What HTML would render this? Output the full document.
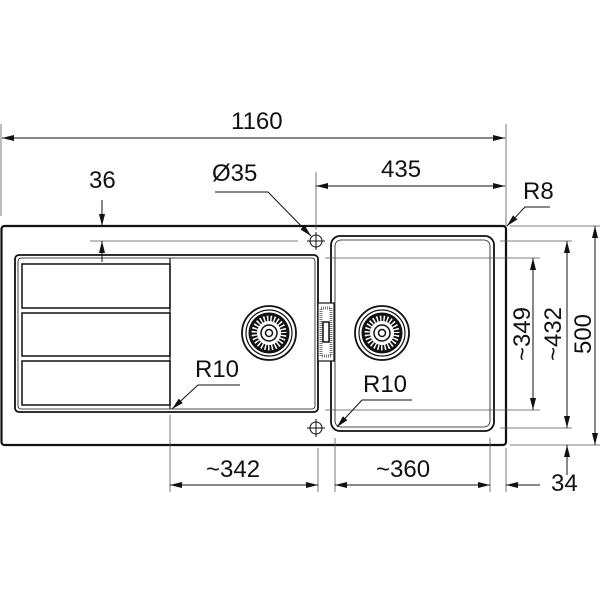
<!DOCTYPE html>
<html><head><style>body{margin:0;background:#fff}svg{display:block}text{font-family:"Liberation Sans",sans-serif;font-size:24px;fill:#111}</style></head>
<body>
<svg width="600" height="600" viewBox="0 0 600 600" xmlns="http://www.w3.org/2000/svg">
<defs>
<marker id="a" viewBox="0 0 12 6" refX="12" refY="3" markerWidth="12" markerHeight="6" orient="auto-start-reverse" markerUnits="userSpaceOnUse"><path d="M0 0L12 3L0 6z" fill="#111"/></marker>
<g id="drain"><circle r="27" fill="#fff" stroke="#111" stroke-width="1.8"/><circle r="23" fill="none" stroke="#111" stroke-width="1.2"/><circle r="19" fill="none" stroke="#111" stroke-width="3"/><circle r="15" fill="none" stroke="#111" stroke-width="6" stroke-dasharray="2 1.5"/><circle r="8" fill="none" stroke="#111" stroke-width="1.5"/><circle r="3.5" fill="none" stroke="#111" stroke-width="1.5"/></g>
<g id="hole"><circle r="6" fill="none" stroke="#111" stroke-width="1"/><path d="M-9 0H9M0 -9V9" stroke="#111" stroke-width="1"/></g>
</defs>
<g stroke="#111" fill="none">
<rect x="1.5" y="226" width="504.5" height="219" rx="3" stroke-width="2.2"/>
<rect x="15" y="255" width="303" height="157" rx="4" stroke-width="1.8"/>
<rect x="18" y="258" width="297" height="151" rx="3" stroke-width="0.8"/>
<line x1="170" y1="258" x2="170" y2="409" stroke-width="1.2"/>
<rect x="22" y="264" width="148" height="44" stroke-width="1.5"/>
<rect x="22" y="313" width="148" height="43" stroke-width="1.5"/>
<rect x="22" y="361" width="148" height="44" stroke-width="1.5"/>
<rect x="331" y="236" width="163" height="195" rx="9" stroke-width="1.8"/>
<rect x="335" y="240" width="155" height="187" rx="6" stroke-width="0.8"/>
<rect x="318" y="303" width="16" height="58" fill="#fff" stroke-width="1.2"/>
<rect x="321" y="308" width="10" height="48" stroke-width="3" stroke="#777" stroke-dasharray="1 1"/>
<rect x="323" y="322" width="6" height="20" stroke-width="1.5"/>
<g stroke-width="0.8" stroke="#555">
<line x1="90" y1="241" x2="298" y2="241"/>
<line x1="1" y1="124" x2="1" y2="216"/>
<line x1="506" y1="124" x2="506" y2="226"/>
<line x1="316" y1="172" x2="316" y2="230"/>
<line x1="510" y1="226" x2="600" y2="226"/>
<line x1="510" y1="445" x2="600" y2="445"/>
<line x1="500" y1="241" x2="572" y2="241"/>
<line x1="500" y1="428" x2="572" y2="428"/>
<line x1="325" y1="258" x2="540" y2="258"/>
<line x1="325" y1="410" x2="540" y2="410"/>
<line x1="170" y1="415" x2="170" y2="492"/>
<line x1="318" y1="448" x2="318" y2="492"/>
<line x1="335" y1="438" x2="335" y2="492"/>
<line x1="490" y1="438" x2="490" y2="492"/>
<line x1="506" y1="448" x2="506" y2="492"/>
</g>
<g stroke-width="1">
<line x1="2" y1="138" x2="505" y2="138" marker-start="url(#a)" marker-end="url(#a)"/>
<line x1="316" y1="186" x2="505" y2="186" marker-start="url(#a)" marker-end="url(#a)"/>
<line x1="102" y1="200" x2="102" y2="226" marker-end="url(#a)"/>
<line x1="102" y1="262" x2="102" y2="241" marker-end="url(#a)"/>
<line x1="533" y1="258" x2="533" y2="410" marker-start="url(#a)" marker-end="url(#a)"/>
<line x1="567" y1="241" x2="567" y2="428" marker-start="url(#a)" marker-end="url(#a)"/>
<line x1="595" y1="226" x2="595" y2="445" marker-start="url(#a)" marker-end="url(#a)"/>
<line x1="567" y1="475" x2="567" y2="445" marker-end="url(#a)"/>
<line x1="170" y1="485" x2="318" y2="485" marker-start="url(#a)" marker-end="url(#a)"/>
<line x1="335" y1="485" x2="490" y2="485" marker-start="url(#a)" marker-end="url(#a)"/>
<line x1="540" y1="485" x2="506" y2="485" marker-end="url(#a)"/>
<polyline points="215,192 268,192 311,236" marker-end="url(#a)"/>
<polyline points="550,207 525,207 507,226" marker-end="url(#a)"/>
<polyline points="240,385 198,385 172,409" marker-end="url(#a)"/>
<polyline points="412,400 362,400 337,427" marker-end="url(#a)"/>
</g>
</g>
<use href="#drain" x="269" y="333"/>
<use href="#drain" x="382" y="333"/>
<use href="#hole" x="316" y="241"/>
<use href="#hole" x="316" y="428"/>
<text x="231" y="129">1160</text>
<text x="381" y="177">435</text>
<text x="89" y="188">36</text>
<text x="212" y="181">Ø35</text>
<text x="523" y="199">R8</text>
<text x="195" y="377">R10</text>
<text x="363" y="392">R10</text>
<text x="206" y="477">~342</text>
<text x="376" y="477">~360</text>
<text x="551" y="491">34</text>
<text transform="translate(530,334) rotate(-90)" text-anchor="middle">~349</text>
<text transform="translate(561,334) rotate(-90)" text-anchor="middle">~432</text>
<text transform="translate(591,334) rotate(-90)" text-anchor="middle">500</text>
</svg>
</body></html>
